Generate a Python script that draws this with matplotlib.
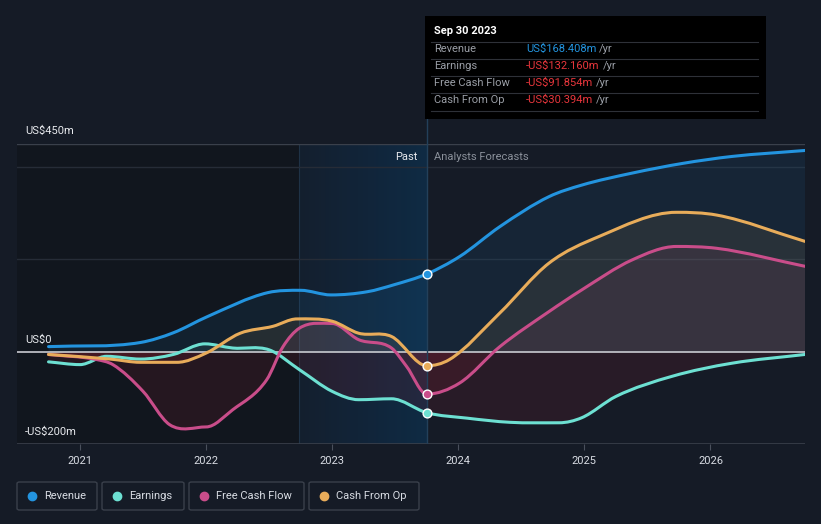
import matplotlib
matplotlib.use("Agg")
import matplotlib.pyplot as plt
from matplotlib.patches import FancyBboxPatch, Rectangle, PathPatch
from matplotlib.path import Path
import numpy as np

plt.rcParams["font.family"] = ["Roboto", "DejaVu Sans"]

# values in US$m, x in decimal years
rev_x = [2020.75, 2021.48, 2021.74, 2022.01, 2022.49, 2022.75, 2022.99, 2023.28, 2023.49, 2023.75,
         2024.01, 2024.33, 2024.72, 2024.98, 2025.38, 2025.78, 2026.17, 2026.75]
rev_y = [11, 20, 41, 76, 128, 133, 123, 130, 145, 168.4,
         206, 271, 336, 361, 387, 408, 423, 436]

earn_x = [2020.75, 2021.0, 2021.21, 2021.48, 2021.74, 2021.99, 2022.21, 2022.5, 2022.74, 2023.0,
          2023.21, 2023.47, 2023.75, 2024.07, 2024.41, 2024.80, 2024.98, 2025.25, 2025.70, 2026.17, 2026.75]
earn_y = [-22, -28, -10, -16, -6, 17, 8, 4, -39, -86,
          -104, -102, -132.2, -144, -153, -154, -143, -97, -53, -25, -6]

fcf_x = [2020.75, 2021.13, 2021.26, 2021.5, 2021.71, 2022.0, 2022.21, 2022.48, 2022.61, 2022.74,
         2023.0, 2023.21, 2023.47, 2023.59, 2023.75, 2024.01, 2024.33, 2024.72, 2024.98, 2025.38,
         2025.73, 2026.05, 2026.75]
fcf_y = [-6, -17, -28, -86, -158, -163, -126, -61, 11, 51,
         61, 26, 8, -32, -91.9, -68, 11, 87, 134, 199,
         228, 224, 185]

cfo_x = [2020.75, 2021.24, 2021.48, 2021.77, 2022.0, 2022.27, 2022.53, 2022.72, 2023.0, 2023.21,
         2023.47, 2023.75, 2023.93, 2024.33, 2024.72, 2025.12, 2025.73, 2026.05, 2026.75]
cfo_y = [-6, -16, -23, -23, -3, 40, 55, 71, 66, 40,
         33, -30.4, -17, 84, 192, 250, 302, 296, 239]

years = [2021, 2022, 2023, 2024, 2025, 2026]
y_labels = ["US$450m", "US$0", "-US$200m"]
series_names = ["Revenue", "Earnings", "Free Cash Flow", "Cash From Op"]
series_colors = ["#2394df", "#6de0d2", "#c94d8a", "#e8ac5a"]
tip_values = ["US$168.408m", "-US$132.160m", "-US$91.854m", "-US$30.394m"]
now = 2023.75
past_start = 2022.74


def smooth_path(xs, ys, close_to_zero=False):
    # bezier path through the points (monotone cubic tangents)
    xs = np.asarray(xs, float); ys = np.asarray(ys, float)
    d = np.diff(ys) / np.diff(xs)
    m = np.zeros_like(ys)
    m[0], m[-1] = d[0], d[-1]
    for i in range(1, len(ys) - 1):
        m[i] = 0 if d[i - 1] * d[i] <= 0 else (d[i - 1] + d[i]) / 2
    verts = [(xs[0], ys[0])]
    codes = [Path.MOVETO]
    for i in range(len(xs) - 1):
        h = xs[i + 1] - xs[i]
        verts += [(xs[i] + h / 3, ys[i] + m[i] * h / 3),
                  (xs[i + 1] - h / 3, ys[i + 1] - m[i + 1] * h / 3),
                  (xs[i + 1], ys[i + 1])]
        codes += [Path.CURVE4] * 3
    if close_to_zero:
        verts += [(xs[-1], 0), (xs[0], 0), (xs[0], ys[0])]
        codes += [Path.LINETO, Path.LINETO, Path.CLOSEPOLY]
    return Path(verts, codes)


BG = "#151b26"
FS = 8
W, H = 821, 524
fig = plt.figure(figsize=(W / 100, H / 100), dpi=100, facecolor=BG)
ax = fig.add_axes([17 / W, 80 / H, 788 / W, 300 / H])
ax.set_facecolor(BG)
ax.set_xlim(2020.5, 2026.75)
ax.set_ylim(-200, 450)
for s in ax.spines.values():
    s.set_visible(False)
ax.set_yticks([])
ax.set_xticks(years)
ax.set_xticklabels([str(y) for y in years], color="#d8dce3", fontsize=FS)
ax.tick_params(axis="x", length=4, color="#4a505c", pad=5)

# darker history and highlighted past region
ax.axvspan(2020.5, past_start, color="#0f131a", alpha=0.6, zorder=0, lw=0)
grad = np.linspace(0, 1, 200).reshape(1, -1)
cmap = matplotlib.colors.LinearSegmentedColormap.from_list("p", ["#142030", "#0f2d48"])
ax.imshow(grad, extent=[past_start, now, -200, 450], aspect="auto", cmap=cmap, zorder=0.5, alpha=0.9)
ax.axvline(past_start, color="#1f3246", lw=0.8, zorder=0.6)

# grid
for g in [400, 200]:
    ax.axhline(g, color="#262c37", lw=1, zorder=1)
ax.axhline(450, color="#3a404b", lw=1, zorder=1)
ax.axhline(-200, color="#3a404b", lw=1.2, zorder=1)

data = [(rev_x, rev_y), (earn_x, earn_y), (fcf_x, fcf_y), (cfo_x, cfo_y)]
above = Rectangle((2020.5, 0), 7, 500, transform=ax.transData)
below = Rectangle((2020.5, -300), 7, 300, transform=ax.transData)
for (xs, ys), c in zip(data, series_colors):
    p = smooth_path(xs, ys, close_to_zero=True)
    pos = ax.add_patch(PathPatch(p, facecolor=c, alpha=0.09, lw=0, zorder=2))
    pos.set_clip_path(above)
    neg = ax.add_patch(PathPatch(p, facecolor="#a02030", alpha=0.14, lw=0, zorder=2))
    neg.set_clip_path(below)
for (xs, ys), c in zip(data, series_colors):
    ax.add_patch(PathPatch(smooth_path(xs, ys), facecolor="none", edgecolor=c, lw=2.2,
                           zorder=4, capstyle="round", joinstyle="round"))
    idx = list(xs).index(now)
    ax.scatter([now], [ys[idx]], s=40, color=c, edgecolor="white", lw=1, zorder=6)

ax.axhline(0, color="#c9cbd1", lw=1.2, zorder=3)
ax.axvline(now, color="#23405a", lw=1, zorder=3)

# header texts
ax.text(now - 0.07, 422, "Past", color="#e8eaee", fontsize=FS, ha="right", va="center")
ax.text(now + 0.055, 422, "Analysts Forecasts", color="#8a909a", fontsize=FS, ha="left", va="center")

fig.text(25 / W, 1 - 131 / H, y_labels[0], color="#e8eaee", fontsize=FS, va="center")
fig.text(25 / W, 1 - 340 / H, y_labels[1], color="#e8eaee", fontsize=FS, va="center")
fig.text(25 / W, 1 - 432 / H, y_labels[2], color="#e8eaee", fontsize=FS, va="center")

# tooltip
fig.add_artist(Rectangle((425 / W, 1 - 119 / H), 341 / W, 103 / H, transform=fig.transFigure,
                         facecolor="#000000", edgecolor="none", zorder=10))
fig.add_artist(plt.Line2D([427 / W, 427 / W], [1 - 144 / H, 1 - 119 / H], color="#23405a", lw=1))
fig.text(434 / W, 1 - 31 / H, "Sep 30 2023", color="white", fontsize=FS, fontweight="bold", va="center", zorder=11)
for yy in [42, 59, 76, 93, 111]:
    fig.add_artist(plt.Line2D([431 / W, 758 / W], [1 - yy / H] * 2, color="#2e3138", lw=0.8, zorder=11))
renderer = fig.canvas.get_renderer()
for i, (name, val) in enumerate(zip(series_names, tip_values)):
    yy = 1 - (49 + 17 * i) / H
    fig.text(434 / W, yy, name, color="#9a9ea6", fontsize=FS, va="center", zorder=11)
    vc = "#2394df" if i == 0 else "#e8363c"
    t = fig.text(526 / W, yy, val, color=vc, fontsize=FS, va="center", zorder=11)
    bb = t.get_window_extent(renderer)
    fig.text(bb.x1 / W + 3 / W, yy, "/yr", color="#9a9ea6", fontsize=FS, va="center", zorder=11)

# legend
boxes = [(17, 80), (102, 82), (189, 115), (309, 110)]
for (bx, bw), name, c in zip(boxes, series_names, series_colors):
    fig.add_artist(FancyBboxPatch((bx / W, 1 - 510 / H), bw / W, 28 / H, boxstyle="round,pad=0,rounding_size=0.003",
                                  transform=fig.transFigure, facecolor="none", edgecolor="#3a404b", lw=1))
    fig.add_artist(plt.Line2D([(bx + 15) / W], [1 - 496 / H], marker="o", markersize=6, color=c, lw=0))
    fig.text((bx + 27) / W, 1 - 496 / H, name, color="#d8dce3", fontsize=FS, va="center")

fig.savefig("out.png", dpi=100, facecolor=BG)
